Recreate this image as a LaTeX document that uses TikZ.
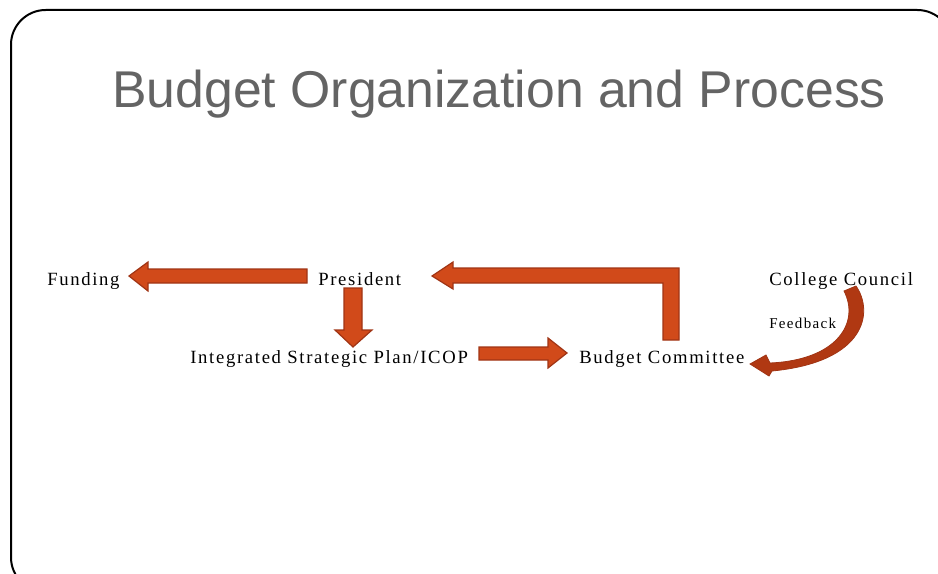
\documentclass[tikz,border=0pt]{standalone}
\usepackage{fontspec}
\setmainfont{Liberation Serif}
\newfontfamily\titlefont{Liberation Sans}
\newfontfamily\lblfont[LetterSpace=9]{Liberation Serif}
\definecolor{arrowfill}{RGB}{209,74,26}
\definecolor{arrowedge}{RGB}{160,52,20}
\definecolor{curvefill}{RGB}{176,56,18}
\definecolor{titlegray}{RGB}{100,100,100}
\tikzset{
  lbl/.style={anchor=base west, inner sep=0pt, font=\lblfont\fontsize{14pt}{16pt}\selectfont},
  smalllbl/.style={anchor=base west, inner sep=0pt, font=\lblfont\fontsize{11.25pt}{13pt}\selectfont},
  blockarrow/.style={fill=arrowfill, draw=arrowedge, line width=0.9pt, line join=miter},
  curvearrow/.style={fill=curvefill, draw=arrowedge, line width=0.6pt},
  frame/.style={draw=black, line width=1.5pt, rounded corners=26pt}
}
\begin{document}
\begin{tikzpicture}[x=0.75pt,y=-0.75pt]
\useasboundingbox (0,0) rectangle (938,574);
\clip (0,0) rectangle (938,574);
\draw[frame] (11,10) rectangle (952,592);
% title
\node[anchor=base west, inner sep=0pt, text=titlegray, font=\titlefont\fontsize{38.8pt}{44pt}\selectfont] (title) at (112,108) {Budget Organization and Process};
% labels
\node[lbl] (funding) at (47,285) {Funding};
\node[lbl] (president) at (318,285) {President};
\node[lbl] (council) at (769,285) {College Council};
\node[lbl] (isp) at (190,363) {Integrated Strategic Plan/ICOP};
\node[lbl] (budget) at (579,363) {Budget Committee};
\node[smalllbl] (feedback) at (769,328) {Feedback};
% President -> Funding
\draw[blockarrow] (307,269) -- (148,269) -- (148,262) -- (129,276) -- (148,291) -- (148,283) -- (307,283) -- cycle;
% President -> ISP
\draw[blockarrow] (344,288) -- (362,288) -- (362,330) -- (372,330) -- (353,347) -- (335,330) -- (344,330) -- cycle;
% ISP -> Budget Committee
\draw[blockarrow] (479,347) -- (548,347) -- (548,338) -- (567,353) -- (548,368) -- (548,360) -- (479,360) -- cycle;
% Budget Committee -> President (bent)
\draw[blockarrow] (663,340) -- (679,340) -- (679,268) -- (453,268) -- (453,262) -- (432,276) -- (453,289) -- (453,283) -- (663,283) -- cycle;
% College Council -> Budget Committee (curved feedback)
\draw[curvearrow] (844,291) -- (856,286) .. controls (874,312) and (866,362) .. (772,371)
  -- (769,376) -- (750,364) -- (766,355) -- (770,363)
  .. controls (838,360) and (860,322) .. (844,291) -- cycle;
\end{tikzpicture}
\end{document}
